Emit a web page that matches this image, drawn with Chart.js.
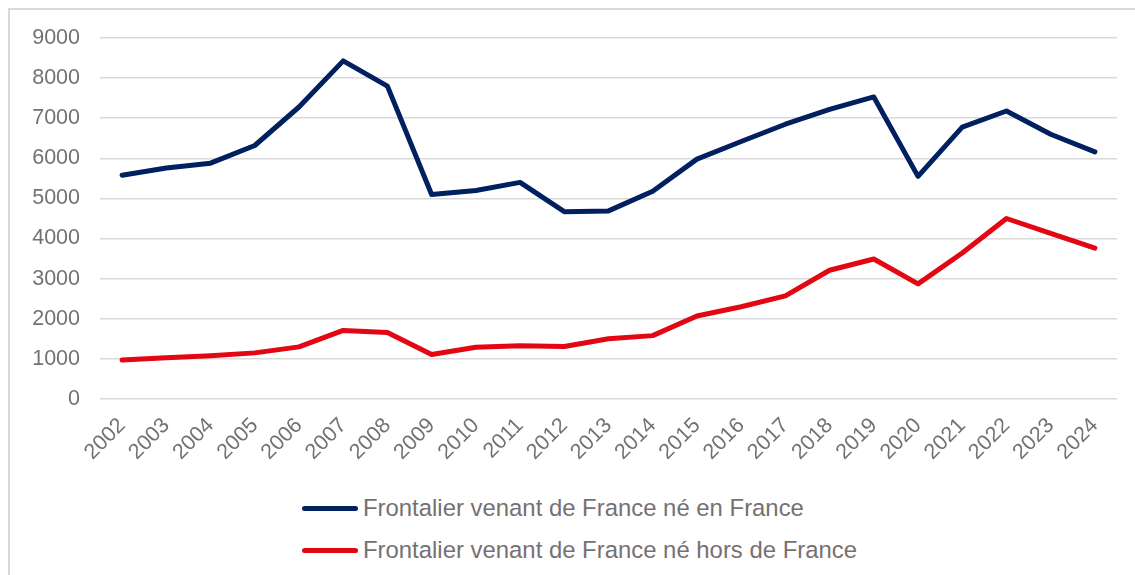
<!DOCTYPE html>
<html lang="fr">
<head>
<meta charset="utf-8">
<script src="https://cdn.jsdelivr.net/npm/chart.js@4.4.1/dist/chart.umd.min.js"></script>
<style>
  html, body { margin: 0; padding: 0; background: #fff; }
  body { width: 1135px; height: 575px; position: relative; overflow: hidden; font-family: "Liberation Sans", Arial, sans-serif; }
  .frame { position: absolute; left: 8px; top: 8px; width: 1200px; height: 700px; border: 2px solid #d9d9d9; box-sizing: border-box; }
  .chart-box { position: absolute; left: 0; top: 0; width: 1135px; height: 470px; }
  .legend { position: absolute; left: 302px; top: 487px; }
  .legend-item { display: flex; align-items: center; height: 42px; }
  .legend-swatch { width: 56px; height: 5px; border-radius: 3px; margin-right: 5px; }
  .legend-text { font-size: 23.9px; color: #767171; white-space: nowrap; }
</style>
</head>
<body>
<div class="frame"></div>
<div class="chart-box"><canvas id="chart"></canvas></div>
<div class="legend" id="legend"></div>
<script>
const years = ['2002', '2003', '2004', '2005', '2006', '2007', '2008', '2009', '2010', '2011', '2012', '2013',
    '2014', '2015', '2016', '2017', '2018', '2019', '2020', '2021', '2022', '2023', '2024'];
const neEnFrance = [5580, 5760, 5880, 6320, 7280, 8430, 7800, 5100, 5200, 5400, 4670, 4690,
    5180, 5980, 6420, 6850, 7220, 7530, 5550, 6780, 7180, 6600, 6160];
const neHorsFrance = [970, 1030, 1080, 1150, 1300, 1710, 1660, 1110, 1290, 1330, 1310, 1500,
    1580, 2070, 2300, 2570, 3210, 3490, 2870, 3640, 4500, 4130, 3760];
const seriesNames = ['Frontalier venant de France né en France', 'Frontalier venant de France né hors de France'];

const gridColor = '#d9d9d9';
const textColor = '#767171';
const tickFont = {family: '"Liberation Sans", Arial, sans-serif', size: 21.5};

const chart = new Chart(document.getElementById('chart'), {
    type: 'line',
    data: {
        labels: years,
        datasets: [{
            label: seriesNames[0],
            data: neEnFrance,
            borderColor: '#002060',
            backgroundColor: '#002060',
            borderWidth: 5,
            pointRadius: 0,
            tension: 0,
            borderCapStyle: 'round',
            borderJoinStyle: 'round',
        }, {
            label: seriesNames[1],
            data: neHorsFrance,
            borderColor: '#E30613',
            backgroundColor: '#E30613',
            borderWidth: 5,
            pointRadius: 0,
            tension: 0,
            borderCapStyle: 'round',
            borderJoinStyle: 'round',
        }]
    },
    options: {
        responsive: true,
        maintainAspectRatio: false,
        animation: false,
        layout: {
            padding: {top: 38, right: 18, left: 0, bottom: 0}
        },
        plugins: {
            legend: {display: false},
            tooltip: {enabled: false},
        },
        scales: {
            x: {
                offset: true,
                grid: {display: false, drawTicks: false},
                border: {display: false},
                ticks: {
                    color: textColor,
                    font: tickFont,
                    minRotation: 45,
                    maxRotation: 45,
                    padding: 14,
                    autoSkip: false,
                },
                afterFit: (scale) => { scale.height = 71; },
            },
            y: {
                min: 0,
                max: 9000,
                grid: {color: gridColor, lineWidth: 1.5, drawTicks: false},
                border: {display: false},
                ticks: {
                    stepSize: 1000,
                    color: textColor,
                    font: tickFont,
                    padding: 20,
                    callback: (value) => String(value),
                },
                afterFit: (scale) => { scale.width = 100; },
            }
        }
    }
});

// légende HTML, empilée verticalement comme dans l'original
const legendEl = document.getElementById('legend');
chart.data.datasets.forEach(ds => {
    const item = document.createElement('div');
    item.className = 'legend-item';
    const swatch = document.createElement('span');
    swatch.className = 'legend-swatch';
    swatch.style.background = ds.borderColor;
    const text = document.createElement('span');
    text.className = 'legend-text';
    text.textContent = ds.label;
    item.appendChild(swatch);
    item.appendChild(text);
    legendEl.appendChild(item);
});
</script>
</body>
</html>
